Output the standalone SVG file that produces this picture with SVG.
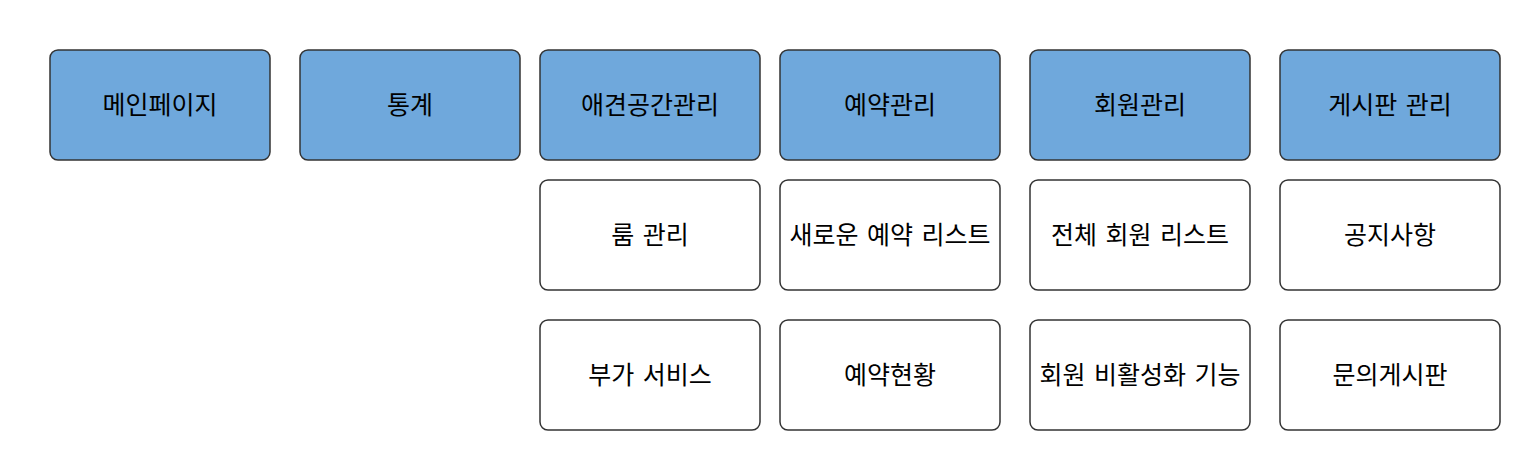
<svg xmlns="http://www.w3.org/2000/svg" width="1520" height="450" viewBox="0 0 1520 450">
<style>
.b{stroke:#333333;stroke-width:1.5}
.h{fill:#6FA8DC}
.w{fill:#FFFFFF}
text{font-family:"Noto Sans CJK KR","Noto Sans",sans-serif;font-size:25px;word-spacing:3px;fill:#000;text-anchor:middle;dominant-baseline:central}
</style>
<rect width="1520" height="450" fill="#FFFFFF"/>
<g id="connectors"></g>
<g id="n1"><rect class="b h" x="50" y="50" width="220" height="110" rx="8"/><text x="160" y="103">메인페이지</text></g>
<g id="n2"><rect class="b h" x="300" y="50" width="220" height="110" rx="8"/><text x="410" y="103">통계</text></g>
<g id="n3"><rect class="b h" x="540" y="50" width="220" height="110" rx="8"/><text x="650" y="103">애견공간관리</text></g>
<g id="n4"><rect class="b h" x="780" y="50" width="220" height="110" rx="8"/><text x="890" y="103">예약관리</text></g>
<g id="n5"><rect class="b h" x="1030" y="50" width="220" height="110" rx="8"/><text x="1140" y="103">회원관리</text></g>
<g id="n6"><rect class="b h" x="1280" y="50" width="220" height="110" rx="8"/><text x="1390" y="103">게시판 관리</text></g>
<g id="n7"><rect class="b w" x="540" y="180" width="220" height="110" rx="8"/><text x="650" y="233">룸 관리</text></g>
<g id="n8"><rect class="b w" x="780" y="180" width="220" height="110" rx="8"/><text x="890" y="233">새로운 예약 리스트</text></g>
<g id="n9"><rect class="b w" x="1030" y="180" width="220" height="110" rx="8"/><text x="1140" y="233">전체 회원 리스트</text></g>
<g id="n10"><rect class="b w" x="1280" y="180" width="220" height="110" rx="8"/><text x="1390" y="233">공지사항</text></g>
<g id="n11"><rect class="b w" x="540" y="320" width="220" height="110" rx="8"/><text x="650" y="373">부가 서비스</text></g>
<g id="n12"><rect class="b w" x="780" y="320" width="220" height="110" rx="8"/><text x="890" y="373">예약현황</text></g>
<g id="n13"><rect class="b w" x="1030" y="320" width="220" height="110" rx="8"/><text x="1140" y="373">회원 비활성화 기능</text></g>
<g id="n14"><rect class="b w" x="1280" y="320" width="220" height="110" rx="8"/><text x="1390" y="373">문의게시판</text></g>
</svg>
